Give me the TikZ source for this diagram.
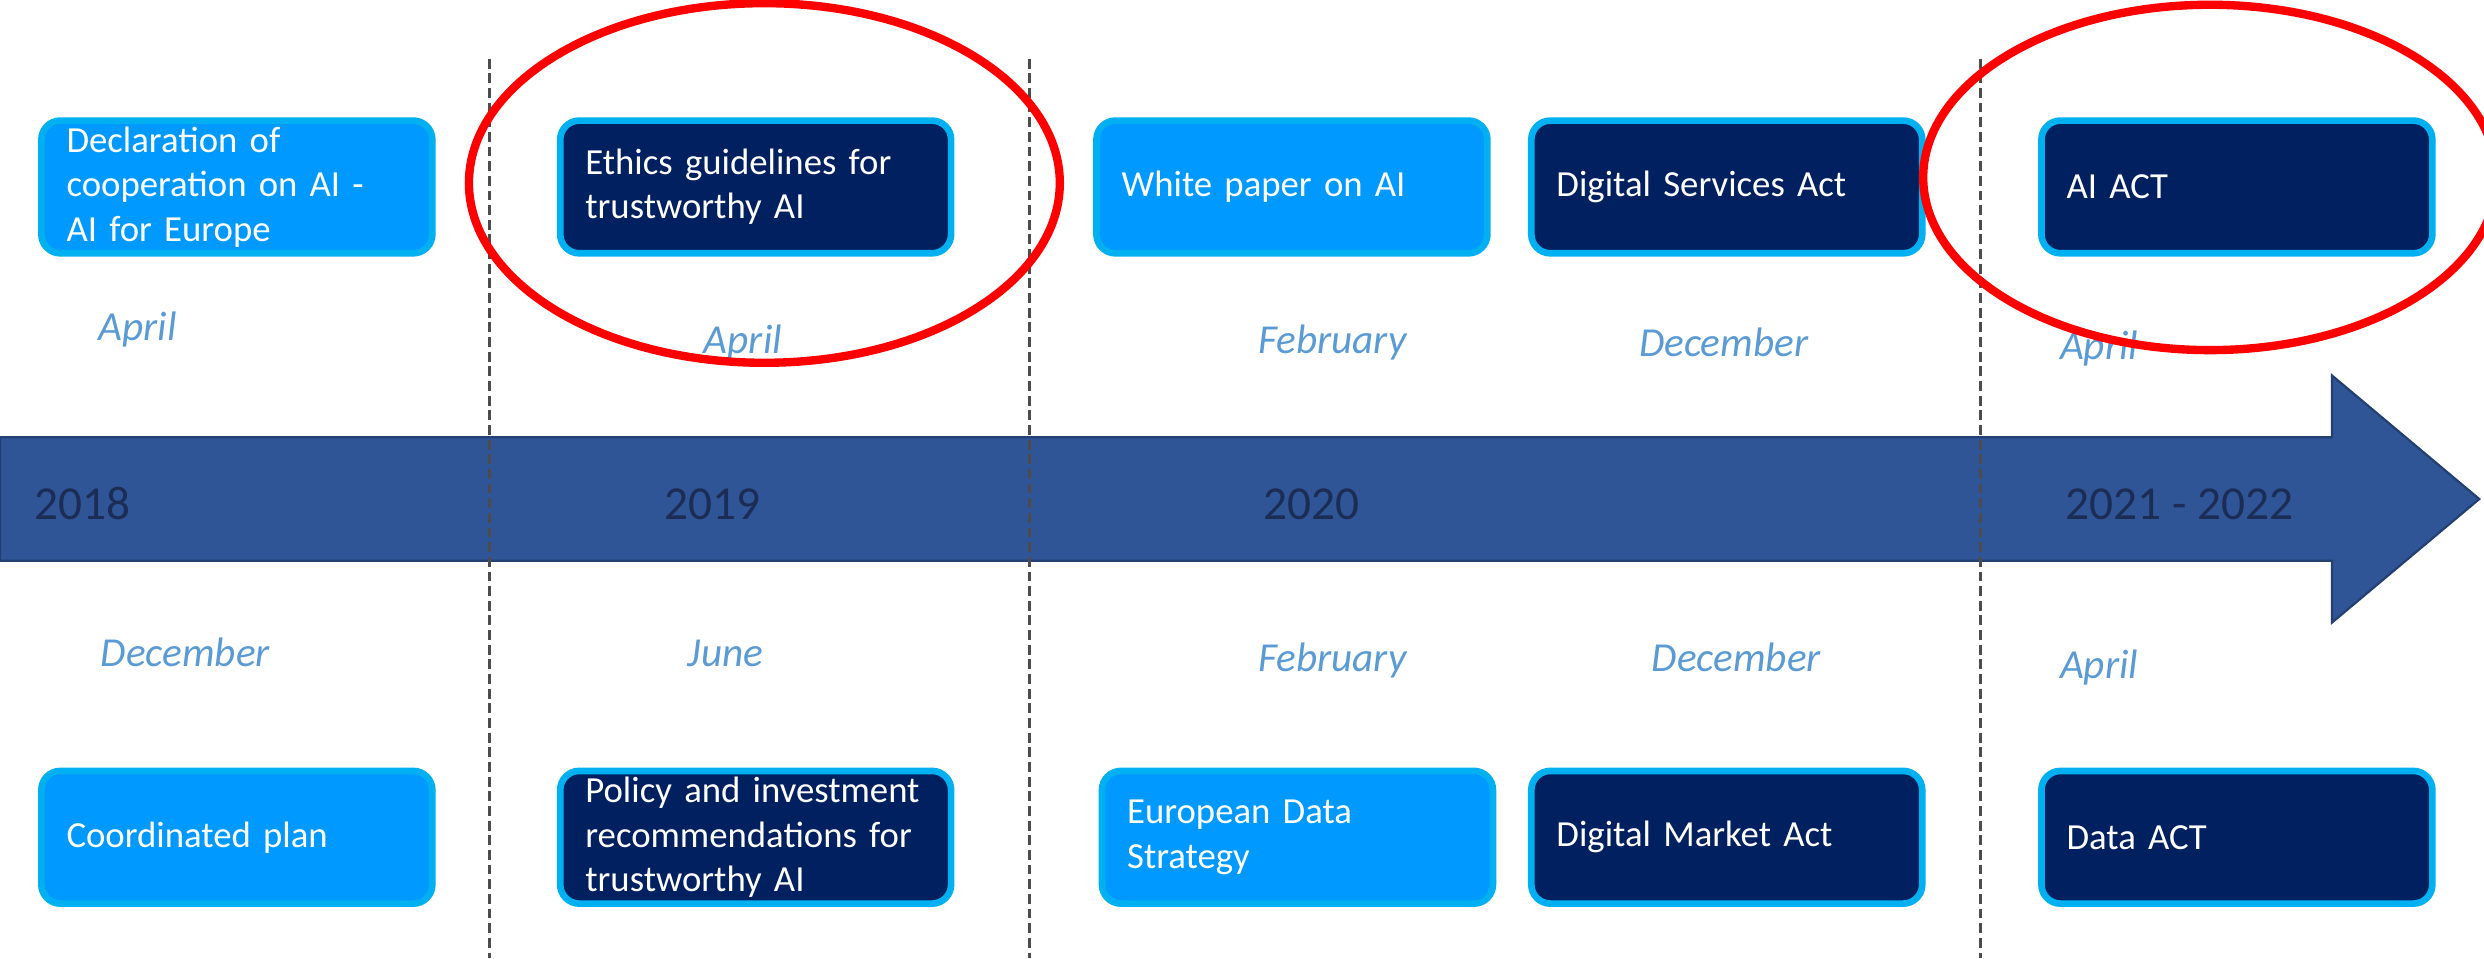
\documentclass[tikz,border=0pt]{standalone}
\usepackage{fontspec}
\setmainfont{Carlito}
\definecolor{lightBox}{HTML}{0099FF}
\definecolor{darkBox}{HTML}{002060}
\definecolor{boxEdge}{HTML}{00B0F0}
\definecolor{arrowBlue}{HTML}{2F5597}
\definecolor{monthBlue}{HTML}{5B9BD5}
\definecolor{yearNavy}{HTML}{1C2D55}
\begin{document}
\begin{tikzpicture}[x = 0.2mm, y = -0.2mm,
	box/.style = {draw = boxEdge, line width = 2.4pt, rounded corners = 2.4mm, minimum width = 49.35mm, minimum height = 16.75mm, text width = 43mm, inner xsep = 3.1mm, inner ysep = 0.5mm, align = left, text = white, font = \fontsize{13.2}{15.9}\selectfont},
	lightbox/.style = {box, fill = lightBox},
	darkbox/.style = {box, fill = darkBox},
	month/.style = {anchor = base, text = monthBlue, font = \fontsize{14.8}{17}\selectfont\itshape},
	year/.style = {anchor = base, text = yearNavy, font = \fontsize{17}{20}\selectfont},
	dashline/.style = {draw = black!70, line width = 1.1pt, dash pattern = on 1.25mm off 0.6mm},
	ring/.style = {draw = red, line width = 3pt}]
	\useasboundingbox (0,0) rectangle (1568,605);
	
	% timeline arrow
	\draw[arrowBlue!75!black, line width = 0.8pt, fill = arrowBlue] (0,276) -- (1472,276) -- (1472,237) -- (1565,315) -- (1472,393) -- (1472,354) -- (0,354) -- cycle;
	
	\foreach \x/\yr [count = \i] in {52/2018, 450/2019, 828/2020, 1376/2021 - 2022}{
		\node[year] (year\i) at (\x,328) {\yr};
	}
	
	% events above
	\node[lightbox] (declaration) at (149.5,118) {Declaration of\\cooperation on AI -\\AI for Europe};
	\node[darkbox] (ethics) at (477,118) {Ethics guidelines for\\trustworthy AI};
	\node[lightbox] (whitepaper) at (815.5,118) {White paper on AI};
	\node[darkbox] (dsa) at (1090,118) {Digital Services Act};
	\node[darkbox] (aiact) at (1412,118) {AI ACT};
	
	% events below
	\node[lightbox] (coordinated) at (149.5,528.5) {Coordinated plan};
	\node[darkbox] (policy) at (477,528.5) {Policy and investment\\recommendations for\\trustworthy AI};
	\node[lightbox] (datastrategy) at (819,528.5) {European Data\\Strategy};
	\node[darkbox] (dma) at (1090,528.5) {Digital Market Act};
	\node[darkbox] (dataact) at (1412,528.5) {Data ACT};
	
	\foreach \x/\y/\m [count = \i] in {87/215/April, 469/223/April, 841/223/February, 1088/225/December, 1325/227/April}{
		\node[month] (up\i) at (\x,\y) {\m};
	}
	
	\foreach \x/\y/\m [count = \i] in {117/421/December, 458/421/June, 841/424/February, 1096/424/December, 1325/428/April}{
		\node[month] (down\i) at (\x,\y) {\m};
	}
	
	\foreach \x in {309, 650, 1250}{
		\draw[dashline] (\x,37) -- (\x,605);
	}
	
	\draw[ring] (482.5,115.5) ellipse [x radius = 186.5, y radius = 113.5];
	\draw[ring] (1395,112) ellipse [x radius = 181, y radius = 109];
\end{tikzpicture}
\end{document}
